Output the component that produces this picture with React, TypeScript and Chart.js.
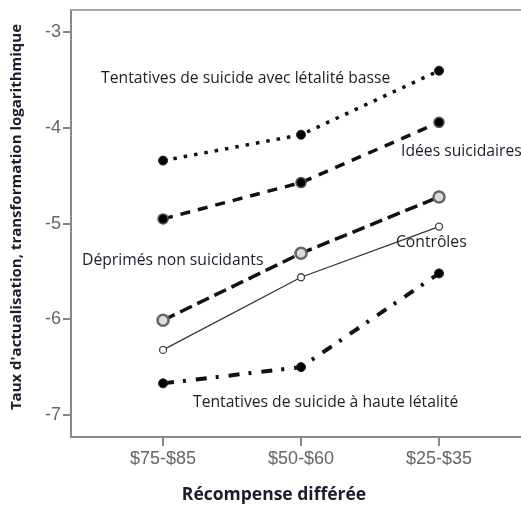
import React, { useEffect, useRef } from "react";
import { Chart, registerables } from "chart.js";

Chart.register(...registerables);

const categories = ["$75-$85", "$50-$60", "$25-$35"];
const yTicks = [-7, -6, -5, -4, -3];

const lowLethality = [-4.34, -4.07, -3.40];
const ideation = [-4.95, -4.57, -3.94];
const depressed = [-6.01, -5.31, -4.72];
const controls = [-6.32, -5.56, -5.03];
const highLethality = [-6.67, -6.50, -5.52];

const seriesNames = [
  "Tentatives de suicide avec létalité basse",
  "Idées suicidaires",
  "Déprimés non suicidants",
  "Contrôles",
  "Tentatives de suicide à haute létalité",
];

// annotation anchors in data units (x = category index, y = value)
const labelX = [-0.449, 1.725, -0.587, 1.688, 0.217];
const labelY = [-3.486, -4.25, -5.38, -5.2, -6.875];

const yTitle = "Taux d'actualisation, transformation logarithmique";
const xTitle = "Récompense différée";

export default function App() {
  const ref = useRef<HTMLCanvasElement | null>(null);
  useEffect(() => {
    const canvas = ref.current!;
    const textColor = "#1c1c2c";
    const decor = {
      id: "decor",
      afterDraw(chart: any) {
        const { ctx, chartArea, scales } = chart;
        ctx.save();
        // top border
        ctx.strokeStyle = "#a8a8a8";
        ctx.lineWidth = 2;
        ctx.beginPath();
        ctx.moveTo(chartArea.left, chartArea.top);
        ctx.lineTo(chartArea.right, chartArea.top);
        ctx.stroke();
        // annotations
        ctx.fillStyle = textColor;
        ctx.font = "15.7px 'Open Sans'";
        ctx.textAlign = "left";
        ctx.textBaseline = "middle";
        seriesNames.forEach((t, i) => {
          ctx.fillText(t, scales.x.getPixelForValue(labelX[i]), scales.y.getPixelForValue(labelY[i]));
        });
        // y title
        ctx.font = "bold 15px 'Open Sans'";
        ctx.textAlign = "center";
        ctx.save();
        ctx.translate(17, 217);
        ctx.rotate(-Math.PI / 2);
        ctx.fillText(yTitle, 0, 0);
        ctx.restore();
        // x title
        ctx.font = "bold 17.5px 'Open Sans'";
        ctx.fillText(xTitle, 274, 495);
        ctx.restore();
      },
    };
    const chart = new Chart(canvas, {
      type: "line",
      data: {
        datasets: [
          {
            label: seriesNames[0],
            data: lowLethality.map((v, i) => ({ x: i, y: v })),
            borderColor: "#111",
            borderWidth: 3.5,
            borderDash: [3.5, 7],
            pointRadius: 4.5,
            pointBackgroundColor: "#000",
            pointBorderColor: "#222",
            pointBorderWidth: 1,
          },
          {
            label: seriesNames[1],
            data: ideation.map((v, i) => ({ x: i, y: v })),
            borderColor: "#111",
            borderWidth: 3.5,
            borderDash: [10, 8],
            pointRadius: 5,
            pointBackgroundColor: "#000",
            pointBorderColor: "#555",
            pointBorderWidth: 1.5,
          },
          {
            label: seriesNames[2],
            data: depressed.map((v, i) => ({ x: i, y: v })),
            borderColor: "#111",
            borderWidth: 3.5,
            borderDash: [13, 6],
            pointRadius: 5.5,
            pointBackgroundColor: "#ddd",
            pointBorderColor: "#666",
            pointBorderWidth: 2.5,
          },
          {
            label: seriesNames[3],
            data: controls.map((v, i) => ({ x: i, y: v })),
            borderColor: "#333",
            borderWidth: 1.3,
            pointRadius: 3.5,
            pointBackgroundColor: "#fff",
            pointBorderColor: "#444",
            pointBorderWidth: 1.3,
          },
          {
            label: seriesNames[4],
            data: highLethality.map((v, i) => ({ x: i, y: v })),
            borderColor: "#111",
            borderWidth: 4,
            borderDash: [11, 9, 3, 10],
            pointRadius: 4.5,
            pointBackgroundColor: "#000",
            pointBorderColor: "#222",
            pointBorderWidth: 1,
          },
        ],
      },
      options: {
        animation: false,
        responsive: false,
        devicePixelRatio: 1,
        layout: { autoPadding: false, padding: { top: 10, right: 0, left: 0, bottom: 0 } },
        plugins: { legend: { display: false }, tooltip: { enabled: false } },
        scales: {
          x: {
            type: "linear",
            min: -0.667,
            max: 2.594,
            afterFit: (s: any) => { s.height = 71; s.paddingLeft = 0; s.paddingRight = 0; },
            afterBuildTicks: (s: any) => { s.ticks = categories.map((_, i) => ({ value: i })); },
            border: { color: "#888", width: 2 },
            grid: { drawOnChartArea: false, drawTicks: true, tickLength: 9, color: "#888", lineWidth: 2 },
            ticks: {
              color: "#666",
              padding: 2,
              font: { family: "'Liberation Sans', Arial", size: 18 },
              callback: (v: any) => categories[v] ?? "",
              maxRotation: 0,
            },
          },
          y: {
            type: "linear",
            min: -7.231,
            max: -2.765,
            afterFit: (s: any) => { s.width = 71; s.paddingTop = 0; s.paddingBottom = 0; },
            afterBuildTicks: (s: any) => { s.ticks = yTicks.map((v) => ({ value: v })); },
            border: { color: "#888", width: 2 },
            grid: { drawOnChartArea: false, drawTicks: true, tickLength: 8, color: "#888", lineWidth: 2 },
            ticks: {
              color: "#666",
              padding: 2,
              font: { family: "'Liberation Sans', Arial", size: 18 },
              callback: (v: any) => String(v),
            },
          },
        },
      },
      plugins: [decor],
    } as any);
    return () => chart.destroy();
  }, []);
  return (
    <div style={{ position: "fixed", left: 0, top: 0, width: 521, height: 508, background: "#fff" }}>
      <canvas ref={ref} width={521} height={508} style={{ width: 521, height: 508, display: "block" }} />
    </div>
  );
}
